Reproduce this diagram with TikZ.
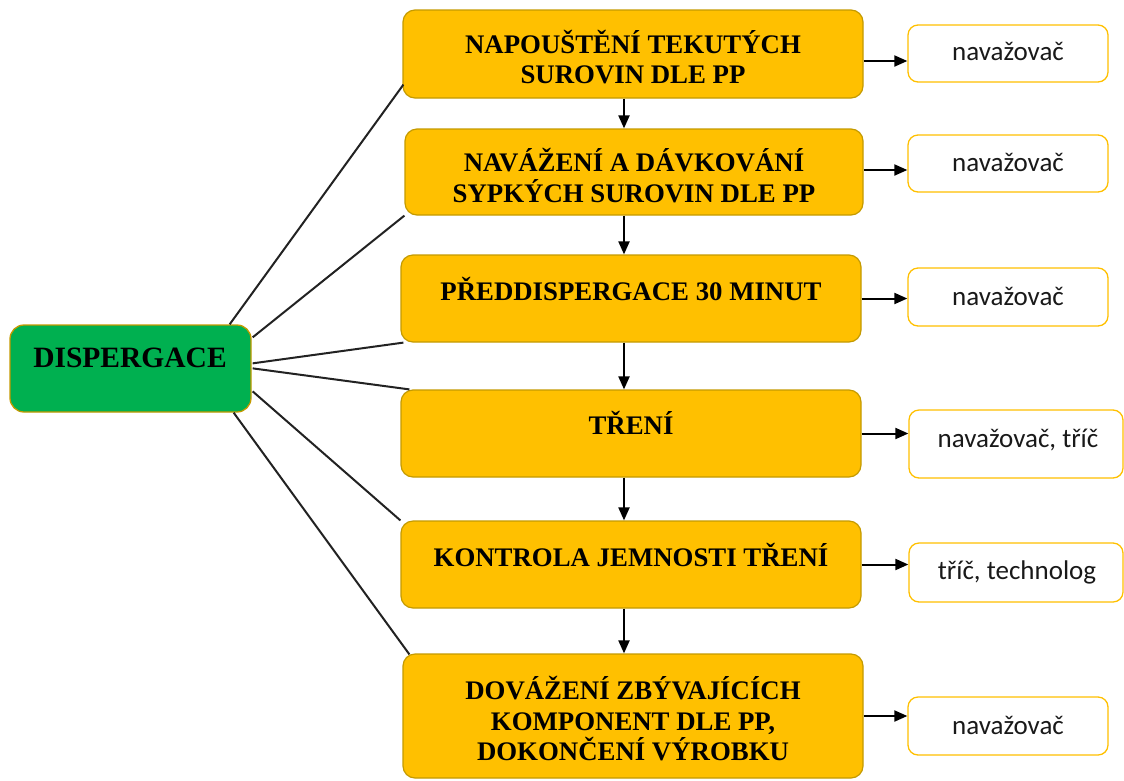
\documentclass[tikz,border=0pt]{standalone}
\usepackage{fontspec}
\setmainfont{Liberation Serif}
\newfontfamily\boxfont{Carlito}
\usetikzlibrary{arrows.meta,calc}
\definecolor{stepfill}{HTML}{FFC000}
\definecolor{stepline}{HTML}{C49A00}
\definecolor{rootfill}{HTML}{00B050}
\definecolor{roleline}{HTML}{FFC000}
\definecolor{linkcol}{HTML}{222222}
\begin{document}
\begin{tikzpicture}[x=1pt,y=-1pt,
  rootbox/.style={draw=stepline,line width=1.3pt,fill=rootfill,rounded corners=14pt,
    minimum width=241pt,minimum height=87pt,inner sep=0pt},
  stepbox/.style={draw=stepline,line width=1.2pt,fill=stepfill,rounded corners=12pt,
    minimum width=460pt,minimum height=87pt,inner sep=0pt},
  steptext/.style={font=\bfseries\fontsize{26.8}{30.5}\selectfont,align=center,inner sep=0pt},
  roletext/.style={font=\boxfont\fontsize{27}{30}\selectfont,text=black!90,inner sep=0pt},
  rolebox/.style={draw=roleline,line width=1.3pt,fill=white,rounded corners=10pt,
    minimum width=200pt,minimum height=57pt,inner sep=0pt},
  link/.style={draw=linkcol,line width=2pt},
  arr/.style={draw=black,line width=2pt,-{Triangle[length=13pt,width=11pt]}}]
\useasboundingbox (0,0) rectangle (1124,780);

% root
\node[rootbox] (g) at (130.5,368.5) {};
\node[font=\bfseries\fontsize{29.5}{33}\selectfont,inner sep=0pt] (gt) at (130,358) {DISPERGACE};

% process steps
\node[stepbox,minimum height=88pt] (p1) at (633,54) {};
\node[steptext] (t1) at (633,57) {NAPOUŠTĚNÍ TEKUTÝCH\\SUROVIN DLE PP};
\node[stepbox,minimum width=458pt,minimum height=86pt] (p2) at (634,172) {};
\node[steptext] (t2) at (634,175.5) {NAVÁŽENÍ A DÁVKOVÁNÍ\\SYPKÝCH SUROVIN DLE PP};
\node[stepbox] (p3) at (631,298.5) {};
\node[steptext] (t3) at (631,289) {PŘEDDISPERGACE 30 MINUT};
\node[stepbox] (p4) at (631,433.5) {};
\node[steptext] (t4) at (631,423) {TŘENÍ};
\node[stepbox] (p5) at (631,564.5) {};
\node[steptext] (t5) at (631,555) {KONTROLA JEMNOSTI TŘENÍ};
\node[stepbox,minimum height=124pt] (p6) at (633,716) {};
\node[steptext] (t6) at (633,719) {DOVÁŽENÍ ZBÝVAJÍCÍCH\\KOMPONENT DLE PP,\\DOKONČENÍ VÝROBKU};

% responsible persons
\node[rolebox] (w1) at (1008,53.5) {};
\node[roletext] (r1) at (1008,51) {navažovač};
\node[rolebox] (w2) at (1008,163.5) {};
\node[roletext] (r2) at (1008,162) {navažovač};
\node[rolebox,minimum height=58pt] (w3) at (1008,297) {};
\node[roletext] (r3) at (1008,296) {navažovač};
\node[rolebox,minimum width=214pt,minimum height=68pt] (w4) at (1016,444) {};
\node[roletext] (r4) at (1018,440) {navažovač, tříč};
\node[rolebox,minimum width=214pt,minimum height=59pt] (w5) at (1016,572.5) {};
\node[roletext] (r5) at (1017,572) {tříč, technolog};
\node[rolebox,minimum height=58pt] (w6) at (1008,726) {};
\node[roletext] (r6) at (1008,725) {navažovač};

% spokes from the root
\draw[link] ($(g.north east)+(-22,0)$) -- ($(p1.south west)+(1,-14)$);
\draw[link] ($(g.north east)+(1,13)$) -- (p2.south west);
\draw[link] ($(g.north east)+(1,39)$) -- ($(p3.south west)+(3,0)$);
\draw[link] ($(g.north east)+(1,44)$) -- ($(p4.north west)+(9,0)$);
\draw[link] ($(g.north east)+(1,67)$) -- (p5.north west);
\draw[link] ($(g.south east)+(-18,0)$) -- ($(p6.north west)+(7,1)$);

% flow between steps
\coordinate (xa) at (624,0);
\draw[arr] (p1.south -| xa) -- (p2.north -| xa);
\draw[arr] (p2.south -| xa) -- (p3.north -| xa);
\draw[arr] (p3.south -| xa) -- (p4.north -| xa);
\draw[arr] (p4.south -| xa) -- (p5.north -| xa);
\draw[arr] (p5.south -| xa) -- (p6.north -| xa);

% step to person
\coordinate (e1) at ($(p1.east)+(0,7)$);
\coordinate (e2) at ($(p2.east)+(0,-2)$);
\draw[arr] (e1) -- (e1 -| w1.west);
\draw[arr] (e2) -- (e2 -| w2.west);
\draw[arr] (p3.east) -- (p3.east -| w3.west);
\draw[arr] (p4.east) -- (p4.east -| w4.west);
\draw[arr] (p5.east) -- (p5.east -| w5.west);
\draw[arr] (p6.east) -- (p6.east -| w6.west);
\end{tikzpicture}
\end{document}
